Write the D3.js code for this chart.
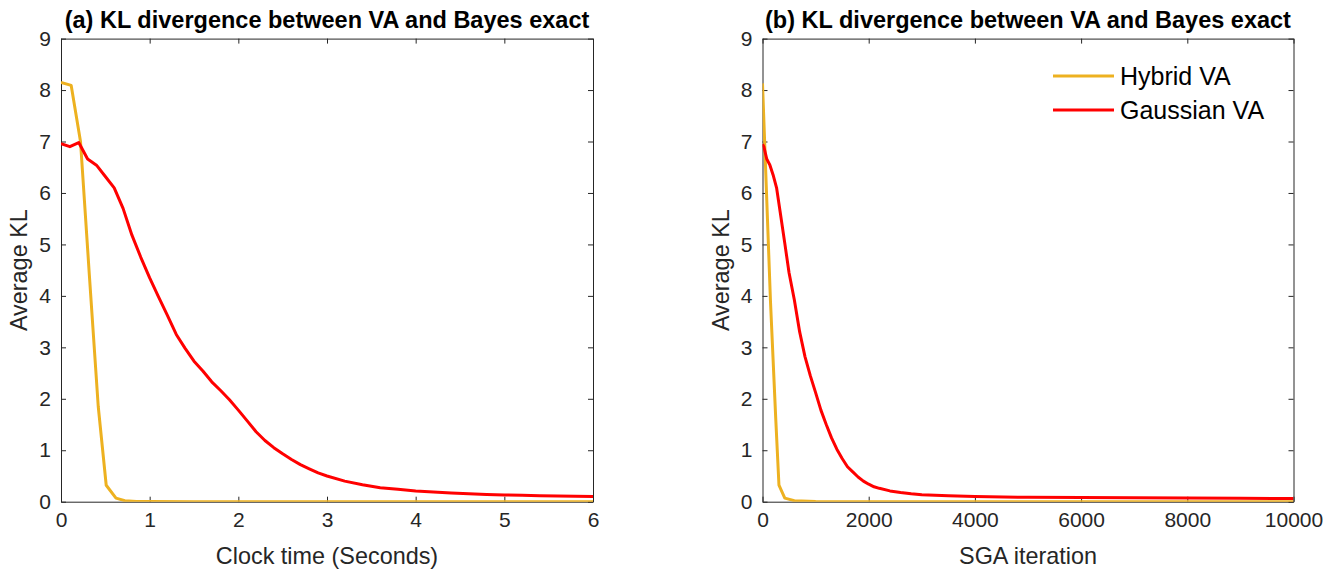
<!DOCTYPE html>
<html>
<head>
<meta charset="utf-8">
<script src="https://cdn.jsdelivr.net/npm/d3@7"></script>
<style>
  html, body { margin: 0; padding: 0; background: #fff; }
  svg { display: block; font-family: "Liberation Sans", Arial, Helvetica, sans-serif; }
</style>
</head>
<body>
<svg id="fig" width="1328" height="569"></svg>
<script>
// ---- Panel (a): KL vs clock time (seconds) ----
const timeHybrid = [0, 0.115, 0.22, 0.32, 0.42, 0.51, 0.62, 0.72, 0.85, 1.0, 1.5, 2, 3, 4, 5, 6];
const klHybridTime = [8.15, 8.09, 7.0, 4.4, 1.85, 0.32, 0.07, 0.02, 0.005, 0.002, 0, 0, 0, 0, 0, 0];

const timeGaussian = [0, 0.1, 0.2, 0.3, 0.4, 0.5, 0.6, 0.7, 0.8, 0.9, 1.0, 1.1, 1.2, 1.3, 1.4, 1.5,
  1.6, 1.7, 1.8, 1.9, 2.0, 2.1, 2.2, 2.3, 2.4, 2.5, 2.6, 2.7, 2.8, 2.9, 3.0, 3.2, 3.4, 3.6, 3.8,
  4.0, 4.2, 4.4, 4.6, 4.8, 5.0, 5.2, 5.4, 5.6, 5.8, 6.0];
const klGaussianTime = [6.96, 6.90, 6.98, 6.66, 6.54, 6.32, 6.10, 5.70, 5.18, 4.75, 4.35, 3.98, 3.62,
  3.25, 2.98, 2.73, 2.54, 2.33, 2.16, 1.98, 1.78, 1.57, 1.36, 1.19, 1.05, 0.93, 0.82, 0.72, 0.64,
  0.56, 0.50, 0.40, 0.33, 0.27, 0.24, 0.21, 0.19, 0.17, 0.155, 0.14, 0.13, 0.125, 0.115, 0.11,
  0.105, 0.10];

// ---- Panel (b): KL vs SGA iteration ----
const iterHybrid = [0, 150, 250, 310, 420, 600, 1000, 2000, 4000, 6000, 8000, 10000];
const klHybridIter = [8.13, 3.9, 1.6, 0.32, 0.07, 0.02, 0.003, 0, 0, 0, 0, 0];

const iterGaussian = [0, 25, 80, 140, 200, 265, 330, 420, 500, 600, 700, 800, 900, 1000, 1100,
  1200, 1300, 1400, 1500, 1600, 1700, 1800, 1900, 2000, 2100, 2200, 2400, 2600, 2800, 3000, 3500,
  4000, 5000, 6000, 7000, 8000, 9000, 10000];
const klGaussianIter = [6.95, 6.90, 6.66, 6.54, 6.35, 6.10, 5.65, 5.02, 4.45, 3.92, 3.30, 2.82,
  2.45, 2.12, 1.78, 1.50, 1.24, 1.02, 0.84, 0.68, 0.58, 0.48, 0.40, 0.34, 0.29, 0.26, 0.21, 0.18,
  0.155, 0.135, 0.115, 0.10, 0.085, 0.08, 0.075, 0.07, 0.065, 0.06];

// ---- Tick values and labels ----
const yTicks = [0, 1, 2, 3, 4, 5, 6, 7, 8, 9];
const xTicksTime = [0, 1, 2, 3, 4, 5, 6];
const xTicksIter = [0, 2000, 4000, 6000, 8000, 10000];

const seriesNames = ["Hybrid VA", "Gaussian VA"];
const seriesColors = ["#EDB120", "#FF0000"];

const titles = ["(a) KL divergence between VA and Bayes exact",
                "(b) KL divergence between VA and Bayes exact"];
const xLabels = ["Clock time (Seconds)", "SGA iteration"];
const yLabel = "Average KL";

const ink = "#262626";
const svg = d3.select("#fig");

const panels = [
  { left: 61, right: 593, xDomain: [0, 6], xTicks: xTicksTime,
    series: [[timeHybrid, klHybridTime], [timeGaussian, klGaussianTime]], legend: false },
  { left: 762.5, right: 1293.5, xDomain: [0, 10000], xTicks: xTicksIter,
    series: [[iterHybrid, klHybridIter], [iterGaussian, klGaussianIter]], legend: true }
];
const plotTop = 38.6, plotBottom = 501.7;

panels.forEach((p, i) => {
  const x = d3.scaleLinear().domain(p.xDomain).range([p.left, p.right]);
  const y = d3.scaleLinear().domain([0, 9]).range([plotBottom, plotTop]);
  const g = svg.append("g");

  const clipId = "clip" + i;
  svg.append("clipPath").attr("id", clipId)
    .append("rect").attr("x", p.left).attr("y", plotTop)
    .attr("width", p.right - p.left).attr("height", plotBottom - plotTop);

  // axes with inward ticks on all four sides
  const styleAxis = (sel) => {
    sel.selectAll("path.domain").attr("stroke", ink);
    sel.selectAll(".tick line").attr("stroke", ink);
    sel.selectAll(".tick text").attr("fill", ink)
      .style("font-size", "21px").style("font-family", "'Liberation Sans', Arial, sans-serif");
  };
  g.append("g").attr("transform", `translate(0,${plotBottom})`)
    .call(d3.axisBottom(x).tickValues(p.xTicks).tickFormat(d3.format("d"))
      .tickSizeInner(-5).tickSizeOuter(0).tickPadding(10))
    .call(styleAxis);
  g.append("g").attr("transform", `translate(0,${plotTop})`)
    .call(d3.axisTop(x).tickValues(p.xTicks).tickFormat("")
      .tickSizeInner(-5).tickSizeOuter(0))
    .call(styleAxis);
  g.append("g").attr("transform", `translate(${p.left},0)`)
    .call(d3.axisLeft(y).tickValues(yTicks).tickFormat(d3.format("d"))
      .tickSizeInner(-5).tickSizeOuter(0).tickPadding(10))
    .call(styleAxis);
  g.append("g").attr("transform", `translate(${p.right},0)`)
    .call(d3.axisRight(y).tickValues(yTicks).tickFormat("")
      .tickSizeInner(-5).tickSizeOuter(0))
    .call(styleAxis);

  // data lines
  const line = d3.line().x(d => x(d[0])).y(d => y(d[1]));
  p.series.forEach((s, k) => {
    const pts = s[0].map((v, j) => [v, s[1][j]]);
    g.append("path").datum(pts)
      .attr("clip-path", `url(#${clipId})`)
      .attr("fill", "none")
      .attr("stroke", seriesColors[k])
      .attr("stroke-width", 3)
      .attr("stroke-linejoin", "round")
      .attr("d", line);
  });

  const cx = (p.left + p.right) / 2;
  // title
  g.append("text").attr("x", cx).attr("y", 28)
    .attr("text-anchor", "middle").attr("fill", "#000")
    .style("font-size", "23.5px").style("font-weight", "bold")
    .text(titles[i]);
  // x label
  g.append("text").attr("x", cx).attr("y", 564)
    .attr("text-anchor", "middle").attr("fill", ink)
    .style("font-size", "23.4px").text(xLabels[i]);
  // y label
  g.append("text")
    .attr("transform", `translate(${p.left - 34},${(plotTop + plotBottom) / 2}) rotate(-90)`)
    .attr("text-anchor", "middle").attr("fill", ink)
    .style("font-size", "23.4px").text(yLabel);

  if (p.legend) {
    const lg = g.append("g");
    seriesNames.forEach((name, k) => {
      const ly = 76 + k * 34;
      lg.append("line").attr("x1", 1053).attr("x2", 1114)
        .attr("y1", ly).attr("y2", ly)
        .attr("stroke", seriesColors[k]).attr("stroke-width", 3);
      lg.append("text").attr("x", 1120).attr("y", ly + 9)
        .attr("fill", "#000").style("font-size", "25px").text(name);
    });
  }
});
</script>
</body>
</html>
